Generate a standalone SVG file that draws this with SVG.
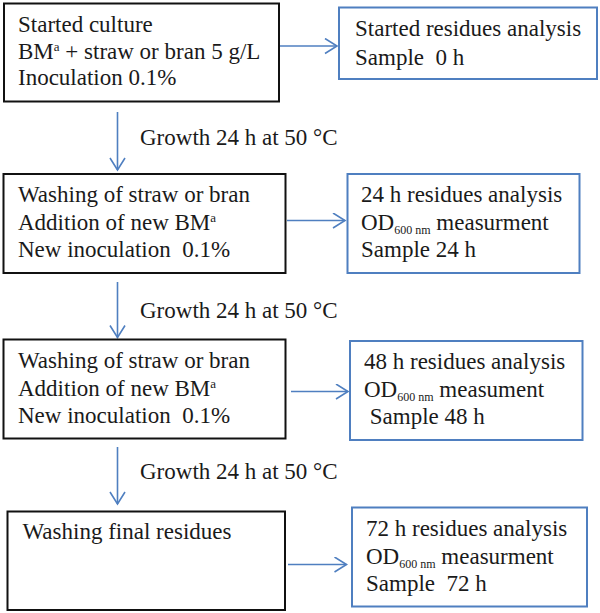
<svg xmlns="http://www.w3.org/2000/svg" width="600" height="613" viewBox="0 0 600 613">
  <style>
    text { font-family: "Liberation Serif", "Times New Roman", serif; font-size: 23px; fill: #1a1a1a; white-space: pre; }
    .sup { font-size: 13px; }
    .sub { font-size: 12px; }
    .bk { fill: #ffffff; stroke: #111111; stroke-width: 2; }
    .bl { fill: #ffffff; stroke: #4f7fc0; stroke-width: 2; }
    .conn { stroke: #4f7fc0; stroke-width: 1.6; fill: none; marker-end: url(#arr); }
  </style>
  <defs>
    <marker id="arr" markerUnits="userSpaceOnUse" markerWidth="16" markerHeight="18" refX="13" refY="8" orient="auto" viewBox="0 0 16 18">
      <path d="M1,0.5 L13,8 L1,15.5" fill="none" stroke="#4f7fc0" stroke-width="1.6"/>
    </marker>
  </defs>
  <rect width="600" height="613" fill="#ffffff"/>

  <g id="connectors">
    <line class="conn" x1="280" y1="46" x2="337" y2="46"/>
    <line class="conn" x1="117.5" y1="112" x2="117.5" y2="170"/>
    <line class="conn" x1="287" y1="220.5" x2="345" y2="220.5"/>
    <line class="conn" x1="117.5" y1="282" x2="117.5" y2="337.5"/>
    <line class="conn" x1="291" y1="391.5" x2="348" y2="391.5"/>
    <line class="conn" x1="117.5" y1="447" x2="117.5" y2="504"/>
    <line class="conn" x1="288" y1="564.5" x2="346.5" y2="564.5"/>
  </g>

  <g id="growth-labels">
    <text x="140" y="145">Growth 24 h at 50 °C</text>
    <text x="140" y="318">Growth 24 h at 50 °C</text>
    <text x="140" y="479">Growth 24 h at 50 °C</text>
  </g>

  <g id="started-culture">
    <rect class="bk" x="4" y="3.5" width="275" height="98"/>
    <text x="18" y="32">Started culture</text>
    <text x="18" y="58.5">BM<tspan class="sup" dy="-8">a</tspan><tspan dy="8"> + straw or bran 5 g/L</tspan></text>
    <text x="18" y="85">Inoculation 0.1%</text>
  </g>

  <g id="started-residues">
    <rect class="bl" x="339" y="7.5" width="258" height="71.5"/>
    <text x="355" y="36">Started residues analysis</text>
    <text x="355" y="65" xml:space="preserve">Sample  0 h</text>
  </g>

  <g id="washing-1">
    <rect class="bk" x="3.5" y="174" width="282" height="99"/>
    <text x="18" y="201.5">Washing of straw or bran</text>
    <text x="18" y="229.5">Addition of new BM<tspan class="sup" dy="-8">a</tspan></text>
    <text x="18" y="256.5" xml:space="preserve">New inoculation  0.1%</text>
  </g>

  <g id="residues-24">
    <rect class="bl" x="347.5" y="174" width="232" height="99"/>
    <text x="361" y="202">24 h residues analysis</text>
    <text x="361" y="229.5">OD<tspan class="sub" dy="4">600 nm</tspan><tspan dy="-4"> measurment</tspan></text>
    <text x="361" y="257">Sample 24 h</text>
  </g>

  <g id="washing-2">
    <rect class="bk" x="3.5" y="339.5" width="282" height="99"/>
    <text x="18" y="367.5">Washing of straw or bran</text>
    <text x="18" y="395.5">Addition of new BM<tspan class="sup" dy="-8">a</tspan></text>
    <text x="18" y="422.5" xml:space="preserve">New inoculation  0.1%</text>
  </g>

  <g id="residues-48">
    <rect class="bl" x="350" y="341" width="232.5" height="99"/>
    <text x="364" y="369">48 h residues analysis</text>
    <text x="364" y="396.5">OD<tspan class="sub" dy="4">600 nm</tspan><tspan dy="-4"> measument</tspan></text>
    <text x="364" y="423.5" xml:space="preserve"> Sample 48 h</text>
  </g>

  <g id="washing-final">
    <rect class="bk" x="7.5" y="511.5" width="277.5" height="98.5"/>
    <text x="22.5" y="539">Washing final residues</text>
  </g>

  <g id="residues-72">
    <rect class="bl" x="352" y="507.5" width="235" height="99"/>
    <text x="366" y="536">72 h residues analysis</text>
    <text x="366" y="564">OD<tspan class="sub" dy="4">600 nm</tspan><tspan dy="-4"> measurment</tspan></text>
    <text x="366" y="591" xml:space="preserve">Sample  72 h</text>
  </g>
</svg>
